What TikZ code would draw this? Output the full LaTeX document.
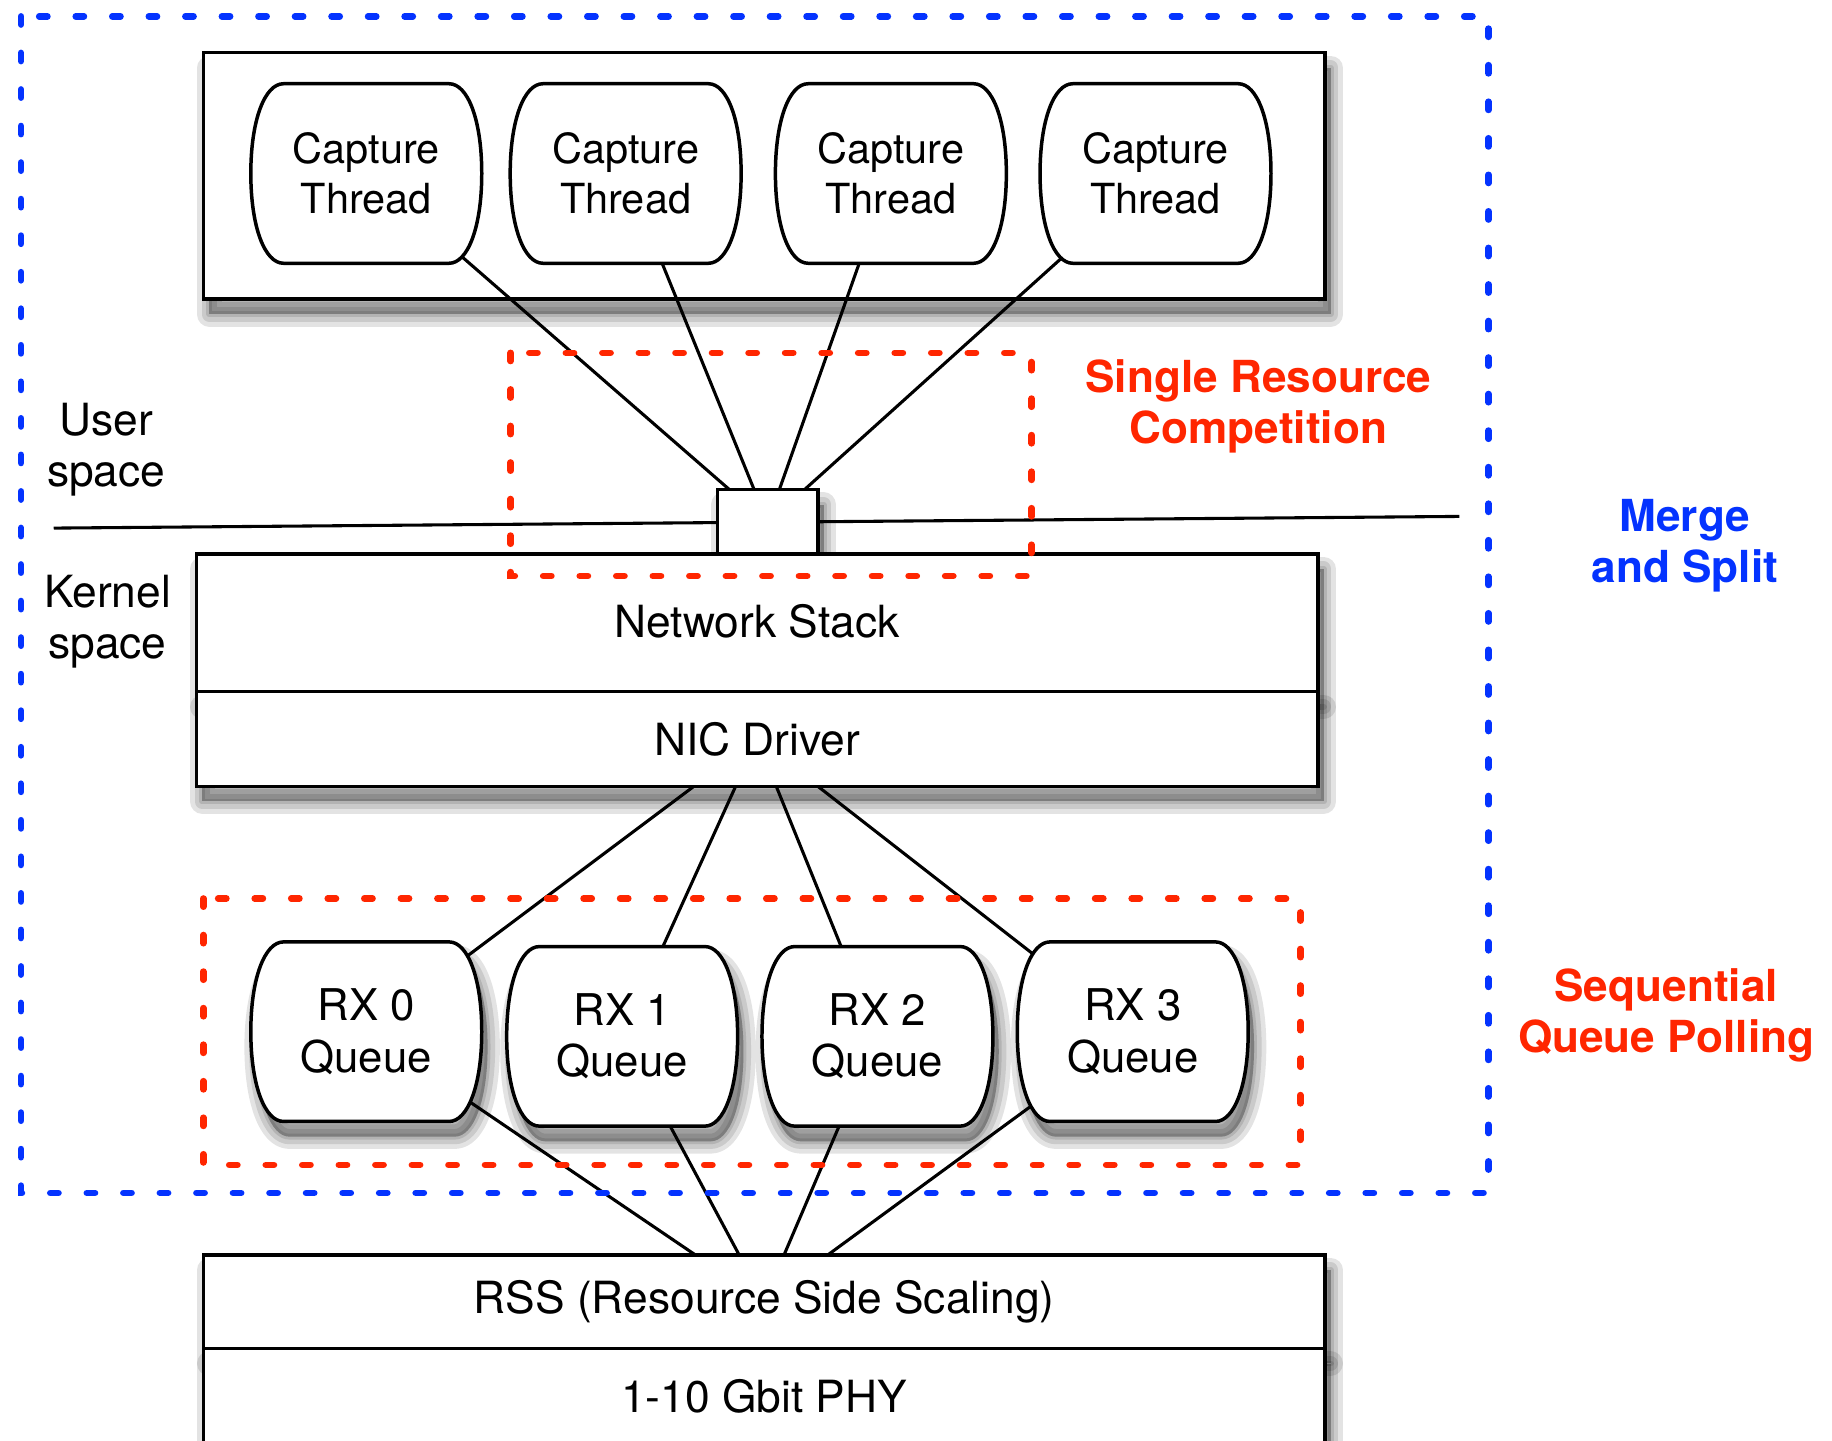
\documentclass[tikz,border=0pt]{standalone}
\usepackage{fontspec}
\setmainfont{TeX Gyre Heros}
\usetikzlibrary{calc,shadows}
\definecolor{ored}{HTML}{FF2600}
\definecolor{oblue}{HTML}{0433FF}
\pgfdeclarelayer{bg}
\pgfdeclarelayer{wires}
\pgfdeclarelayer{shapes}
\pgfsetlayers{bg,wires,shapes,main}
\newcommand\barrelshape[2][]{%
  \path[barrel,#1] ($(#2.north west)+(28,0)$) -- ($(#2.north east)+(-28,0)$)
    .. controls ($(#2.north east)+(-12,0)$) and ($(#2.east)+(0,-46)$) .. (#2.east)
    .. controls ($(#2.east)+(0,46)$) and ($(#2.south east)+(-12,0)$) .. ($(#2.south east)+(-28,0)$)
    -- ($(#2.south west)+(28,0)$)
    .. controls ($(#2.south west)+(12,0)$) and ($(#2.west)+(0,46)$) .. (#2.west)
    .. controls ($(#2.west)+(0,-46)$) and ($(#2.north west)+(12,0)$) .. cycle;}
\tikzset{
  txt/.style={align=center, font=\fontsize{21.6}{25}\selectfont, inner sep=0pt},
  txtb/.style={align=center, font=\fontsize{21.5}{25}\selectfont\bfseries, inner sep=0pt},
  panel/.style={draw=black, line width=1.7pt, fill=white, minimum width=19.2cm, inner sep=0pt,
    align=center, font=\fontsize{21.6}{25}\selectfont},
  shadelayer/.style={general shadow={fill=black, draw=black, line width=#1, opacity=0.11,
    line join=round, shadow xshift=0.1cm, shadow yshift=-0.26cm}},
  shadowed/.style={shadelayer=0.42cm, shadelayer=0.26cm, shadelayer=0.1cm},
  cell/.style={minimum width=3.94cm, minimum height=3.06cm, inner sep=0pt, align=center,
    font=\fontsize{20.2}{24.6}\selectfont},
  rxcell/.style={cell, font=\fontsize{21.3}{25}\selectfont},
  barrel/.style={draw=black, line width=1.7pt, fill=white},
  wire/.style={line width=1.5pt, draw=black},
  reddots/.style={draw=ored, line width=3.2pt, line cap=round, dash pattern=on 4pt off 13.8pt},
  bluedots/.style={draw=oblue, line width=3.2pt, line cap=round, dash pattern=on 4pt off 13.8pt},
}
\begin{document}
\begin{tikzpicture}[x=0.02cm, y=-0.02cm]
\clip (0,0) rectangle (1568,1233);
\begin{pgfonlayer}{bg}
\fill[white] (0,0) rectangle (1568,1233);
% top container
\node[panel, shadowed, minimum height=4.22cm] (cont) at (654,150.5) {};
\end{pgfonlayer}

% capture threads
\node[cell] (t1) at (313.5,148.5) {Capture\\Thread};
\node[cell] (t2) at (535.5,148.5) {Capture\\Thread};
\node[cell] (t3) at (762.5,148.5) {Capture\\Thread};
\node[cell] (t4) at (989,148.5) {Capture\\Thread};

% small box on the boundary
\node[panel, shadowed, minimum width=1.72cm, minimum height=1.14cm] (sb) at (657,447.5) {};

% kernel boxes
\node[panel, shadowed, minimum height=2.36cm] (ns) at (648,533) {\raisebox{0.06cm}{Network Stack}};
\node[panel, shadowed, minimum height=1.62cm] (nic) at (648,632.5) {NIC Driver};

% rx queues
\node[rxcell] (r0) at (313.5,883) {RX 0\\Queue};
\node[rxcell] (r1) at (532.5,887) {RX 1\\Queue};
\node[rxcell] (r2) at (751,887) {RX 2\\Queue};
\node[rxcell] (r3) at (969.5,883) {RX 3\\Queue};

% nic hardware
\node[panel, shadowed, minimum height=1.6cm] (rss) at (654,1114) {RSS (Resource Side Scaling)};
\node[panel, shadowed, minimum height=2cm] (phy) at (654,1204) {\raisebox{0.38cm}{1-10 Gbit PHY}};

\coordinate (ul) at (46,452);
\coordinate (ur) at (1249,442);

\begin{pgfonlayer}{shapes}
\barrelshape{t1}
\barrelshape{t2}
\barrelshape{t3}
\barrelshape{t4}
\barrelshape[shadowed]{r0}
\barrelshape[shadowed]{r1}
\barrelshape[shadowed]{r2}
\barrelshape[shadowed]{r3}
\end{pgfonlayer}

\begin{pgfonlayer}{wires}
\draw[wire] (ul) -- (ur);
\foreach \n in {t1,t2,t3,t4} \draw[wire] (\n.center) -- (sb.center);
\foreach \n in {r0,r1,r2,r3} \draw[wire] (nic.center) -- (\n.center);
\foreach \n in {r0,r1,r2,r3} \draw[wire] (\n.center) -- (rss.center);
\end{pgfonlayer}

% dotted regions
\draw[bluedots] (18,14) rectangle (1274,1021);
\draw[reddots] (437,302) rectangle (883,493);
\draw[reddots] (174,769) rectangle (1113,997);

% labels
\node[txt] (user) at (91,385) {User\\space};
\node[txt] (kern) at (92,532) {Kernel\\space};
\node[txtb, text=ored] (src) at (1077,348) {Single Resource\\Competition};
\node[txtb, text=oblue] (ms) at (1442,467) {Merge\\and Split};
\node[txtb, text=ored] (sqp) at (1426,869) {Sequential\\Queue Polling};
\end{tikzpicture}
\end{document}
